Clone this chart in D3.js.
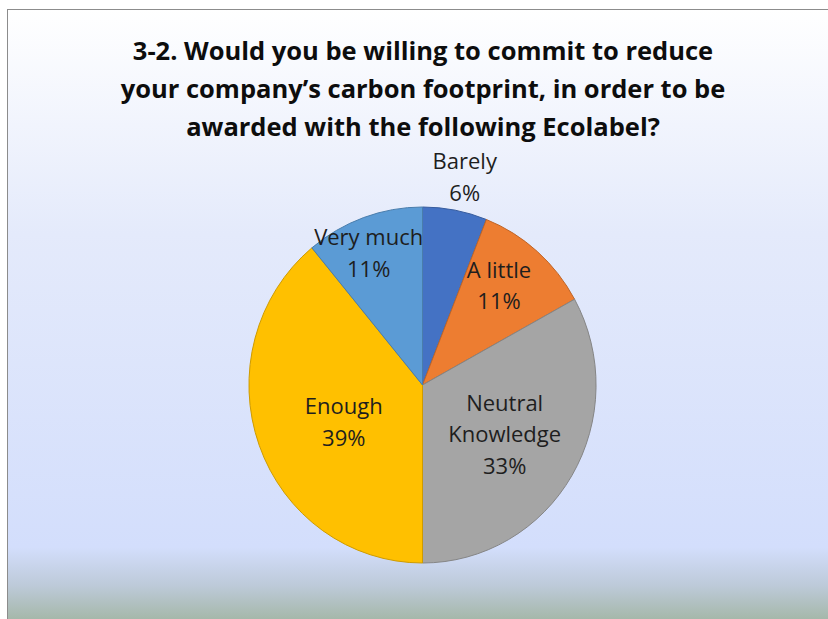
<!DOCTYPE html>
<html>
<head>
<meta charset="utf-8">
<script src="https://cdn.jsdelivr.net/npm/d3@7"></script>
<style>
  body { margin: 0; background: #fff; }
  svg { display: block; }
</style>
</head>
<body>
<div id="chart-area"></div>
<script>
var outerWidth = 828;
var outerHeight = 619;

// data
var categories = ['Barely', 'A little', 'Neutral Knowledge', 'Enough', 'Very much'];
var labelLines = [['Barely'], ['A little'], ['Neutral', 'Knowledge'], ['Enough'], ['Very much']];
var values = [6, 11, 33, 39, 11];
var colors = ['#4472c4', '#ed7d31', '#a5a5a5', '#ffc000', '#5b9bd5'];
var titleLines = ['3-2. Would you be willing to commit to reduce',
                  'your company\u2019s carbon footprint, in order to be',
                  'awarded with the following Ecolabel?'];

// layout: label distance from centre as a fraction of the radius
var labelRadius = [1.19, 0.71, 0.55, 0.5, 0.8];
var labelAngleShift = [1, -3, 0, -5, -3];

var svg = d3.select('#chart-area').append('svg')
            .attr('width', outerWidth)
            .attr('height', outerHeight);

var defs = svg.append('defs');
var grad = defs.append('linearGradient')
               .attr('id', 'bg')
               .attr('x1', 0).attr('y1', 0)
               .attr('x2', 0).attr('y2', 1);
[[0, '#ffffff'], [0.35, '#e4eafb'], [0.84, '#d3defc'], [0.9, '#bdcad9'], [0.96, '#a2b5a3'], [1, '#94ab8f']]
  .forEach(function(s) {
    grad.append('stop').attr('offset', s[0]).attr('stop-color', s[1]);
  });

// chart frame
svg.append('rect')
   .attr('x', 7.5)
   .attr('y', 9.5)
   .attr('width', 840)
   .attr('height', 640)
   .attr('fill', 'url(#bg)')
   .attr('stroke', '#8c8c8c')
   .attr('stroke-width', 1);

// title
var title = svg.append('text')
               .attr('text-anchor', 'middle')
               .attr('font-family', 'Open Sans, sans-serif')
               .attr('font-weight', 'bold')
               .attr('font-size', '25.5px')
               .attr('fill', '#0d0d0d');
title.selectAll('tspan')
     .data(titleLines)
     .enter().append('tspan')
     .attr('x', 423)
     .attr('y', function(d, i) { return 60 + i * 38; })
     .text(function(d) { return d; });

// pie
var cx = 422.5, cy = 385, r = 178, sx = 0.975;

var pie = d3.pie().sort(null).value(function(d) { return d; });
var arcs = pie(values);
var arc = d3.arc().innerRadius(0).outerRadius(r);

var g = svg.append('g')
           .attr('transform', 'translate(' + cx + ',' + cy + ') scale(' + sx + ',1)');

g.selectAll('path')
 .data(arcs)
 .enter().append('path')
 .attr('d', arc)
 .attr('fill', function(d, i) { return colors[i]; })
 .attr('stroke', function(d, i) { return d3.color(colors[i]).darker(0.6); })
 .attr('stroke-width', 1)
 .attr('vector-effect', 'non-scaling-stroke');

// data labels
var fmt = d3.format('.0%');
var total = d3.sum(values);
var labels = svg.append('g')
                .attr('font-family', 'Open Sans, sans-serif')
                .attr('font-size', '22px')
                .attr('fill', '#1e1e1e')
                .attr('text-anchor', 'middle');

arcs.forEach(function(d, i) {
  var a = (d.startAngle + d.endAngle) / 2 + labelAngleShift[i] * Math.PI / 180;
  var lx = cx + Math.sin(a) * r * labelRadius[i] * sx;
  var ly = cy - Math.cos(a) * r * labelRadius[i];
  var lines = labelLines[i].concat([fmt(values[i] / total)]);
  var lh = 31.5;
  var t = labels.append('text');
  lines.forEach(function(s, k) {
    t.append('tspan')
     .attr('x', lx)
     .attr('y', ly + (k - (lines.length - 1) / 2) * lh + 7.5)
     .text(s);
  });
});
</script>
</body>
</html>
